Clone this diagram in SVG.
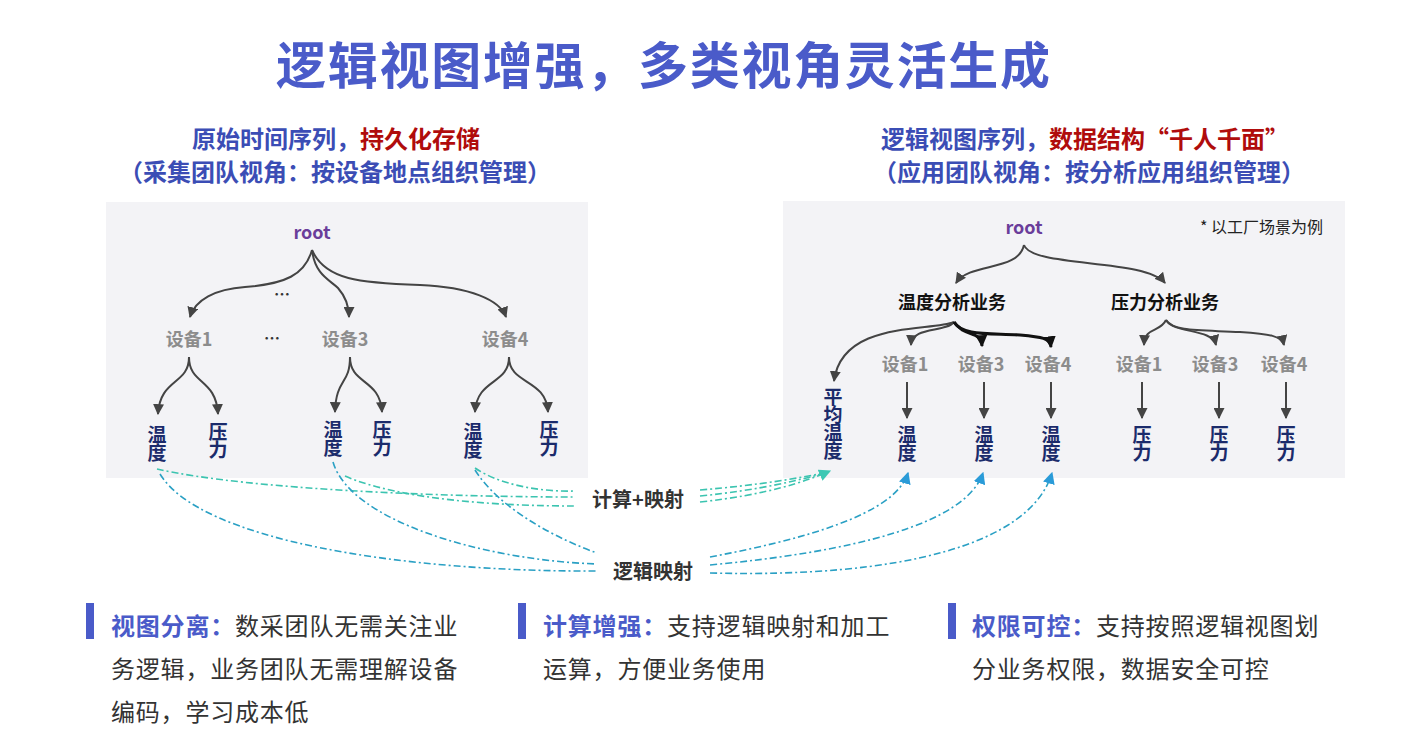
<svg xmlns="http://www.w3.org/2000/svg" width="1413" height="735" viewBox="0 0 1413 735">
<style>
.cjk{font-family:"Noto Sans CJK SC","Liberation Sans",sans-serif}
.title{font-size:50px;font-weight:bold;fill:#4a5bc9}
.sub{font-size:24px;font-weight:bold;fill:#3b4db5}
.red{fill:#b00c0c}
.root{font-size:18px;font-weight:bold;fill:#6a3d9a}
.dev{font-size:18px;font-weight:bold;fill:#8c8c8c}
.leaf{font-size:19px;font-weight:bold;fill:#1b2b6b;writing-mode:vertical-rl;letter-spacing:-1px}
.biz{font-size:18px;font-weight:bold;fill:#111}
.note{font-size:16px;fill:#222}
.lbl{font-size:20px;font-weight:bold;fill:#333}
.body{font-size:24px;fill:#333;letter-spacing:0.8px}
.hl{font-weight:bold;fill:#4a5bc9}
.tree{fill:none;stroke:#444;stroke-width:2}
.thick{fill:none;stroke:#111;stroke-width:3}
.calc{fill:none;stroke:#3cc4b0;stroke-width:1.6;stroke-dasharray:7 3 2 3}
.map{fill:none;stroke:#2aa0c4;stroke-width:1.6;stroke-dasharray:7 3 2 3}
.bar{fill:#4a5bc9}
</style>
<defs>
<marker id="ah" viewBox="0 0 10 10" refX="9" refY="5" markerWidth="11" markerHeight="11" markerUnits="userSpaceOnUse" orient="auto"><path d="M0,0 L10,5 L0,10 z" fill="#444"/></marker>
<marker id="ahk" viewBox="0 0 10 10" refX="9" refY="5" markerWidth="12" markerHeight="12" markerUnits="userSpaceOnUse" orient="auto"><path d="M0,0 L10,5 L0,10 z" fill="#111"/></marker>
<marker id="aht" viewBox="0 0 10 10" refX="9" refY="5" markerWidth="12" markerHeight="12" markerUnits="userSpaceOnUse" orient="auto"><path d="M0,0 L10,5 L0,10 z" fill="#3cc8b4"/></marker>
<marker id="ahb" viewBox="0 0 10 10" refX="9" refY="5" markerWidth="12" markerHeight="12" markerUnits="userSpaceOnUse" orient="auto"><path d="M0,0 L10,5 L0,10 z" fill="#2a9bd8"/></marker>
</defs>
<rect width="1413" height="735" fill="#ffffff"/>

<g id="title" class="cjk">
<text class="title" x="276" y="84" textLength="774" lengthAdjust="spacing">逻辑视图增强，多类视角灵活生成</text>
</g>

<g id="left-heading" class="cjk">
<text class="sub" x="336" y="148" text-anchor="middle">原始时间序列，<tspan class="red">持久化存储</tspan></text>
<text class="sub" x="335" y="181" text-anchor="middle">（采集团队视角：按设备地点组织管理）</text>
</g>
<g id="right-heading" class="cjk">
<text class="sub" x="1085" y="148" text-anchor="middle">逻辑视图序列，<tspan class="red">数据结构“千人千面”</tspan></text>
<text class="sub" x="1089" y="181" text-anchor="middle">（应用团队视角：按分析应用组织管理）</text>
</g>

<rect id="left-panel" x="106" y="202" width="482" height="276" fill="#f3f3f6"/>
<rect id="right-panel" x="783" y="201" width="562" height="277" fill="#f3f3f6"/>

<g id="connectors">
<!-- left tree -->
<path class="tree" marker-end="url(#ah)" d="M312,250 C305,275 285,284 245,287 C215,289 195,300 190,317"/>
<path class="tree" marker-end="url(#ah)" d="M312,250 C315,275 330,280 338,288 C345,296 349,305 349,317"/>
<path class="tree" marker-end="url(#ah)" d="M312,250 C325,280 360,283 420,285 C470,287 500,300 506,317"/>
<path class="tree" marker-end="url(#ah)" d="M189,357 C189,385 160,378 158,414"/>
<path class="tree" marker-end="url(#ah)" d="M189,357 C189,385 216,378 218,414"/>
<path class="tree" marker-end="url(#ah)" d="M350,357 C350,385 336,378 335,412"/>
<path class="tree" marker-end="url(#ah)" d="M350,357 C350,385 380,378 382,412"/>
<path class="tree" marker-end="url(#ah)" d="M509,357 C509,385 477,378 475,412"/>
<path class="tree" marker-end="url(#ah)" d="M509,357 C509,385 546,378 548,412"/>
<!-- right tree -->
<path class="tree" marker-end="url(#ah)" d="M1024,245 C1018,272 970,262 956,283"/>
<path class="tree" marker-end="url(#ah)" d="M1024,245 C1032,268 1145,258 1165,283"/>
<path class="tree" marker-end="url(#ah)" d="M954,322 C930,332 842,320 834,381"/>
<path class="tree" marker-end="url(#ah)" d="M954,322 C945,333 912,326 911,345"/>
<path class="thick" marker-end="url(#ahk)" d="M954,322 C965,338 981,330 982,346"/>
<path class="thick" marker-end="url(#ahk)" d="M954,322 C962,336 990,333 1020,335 C1042,337 1050,338 1051,347"/>
<path class="tree" marker-end="url(#ah)" d="M1166,320 C1160,333 1145,326 1144,345"/>
<path class="tree" marker-end="url(#ah)" d="M1166,320 C1174,334 1212,328 1216,345"/>
<path class="tree" marker-end="url(#ah)" d="M1166,320 C1174,332 1200,330 1240,332 C1270,334 1282,336 1284,345"/>
<path class="tree" marker-end="url(#ah)" d="M907,382 L907,418"/>
<path class="tree" marker-end="url(#ah)" d="M984,382 L984,418"/>
<path class="tree" marker-end="url(#ah)" d="M1051,382 L1051,418"/>
<path class="tree" marker-end="url(#ah)" d="M1142,382 L1142,418"/>
<path class="tree" marker-end="url(#ah)" d="M1219,382 L1219,418"/>
<path class="tree" marker-end="url(#ah)" d="M1286,382 L1286,418"/>
<!-- compute + mapping -->
<path class="calc" d="M157,469 C250,490 450,497 575,497"/>
<path class="calc" d="M345,476 C400,500 500,506 575,506"/>
<path class="calc" d="M475,468 C500,485 540,492 575,491"/>
<path class="calc" d="M700,490 C760,485 800,478 829,472"/>
<path class="calc" d="M700,496 C760,490 800,480 829,472"/>
<path class="calc" marker-end="url(#aht)" d="M700,502 C765,495 805,482 830,471"/>
<!-- logical mapping -->
<path class="map" d="M160,474 C200,540 400,572 597,571"/>
<path class="map" d="M333,462 C350,520 480,560 597,564"/>
<path class="map" d="M475,470 C500,510 560,540 597,553"/>
<path class="map" marker-end="url(#ahb)" d="M710,557 C800,540 895,515 908,473"/>
<path class="map" marker-end="url(#ahb)" d="M710,565 C850,552 965,525 983,473"/>
<path class="map" marker-end="url(#ahb)" d="M710,573 C900,578 1030,545 1052,473"/>
</g>

<g id="left-root" class="cjk"><text class="root" x="312" y="239" text-anchor="middle">root</text></g>
<g id="left-dots" class="cjk"><text x="282" y="300" font-size="16" font-weight="bold" fill="#333" text-anchor="middle">…</text><text x="272" y="344" font-size="16" font-weight="bold" fill="#333" text-anchor="middle">…</text></g>
<g id="l-dev1" class="cjk"><text class="dev" x="189" y="346" text-anchor="middle">设备1</text></g>
<g id="l-dev3" class="cjk"><text class="dev" x="345" y="346" text-anchor="middle">设备3</text></g>
<g id="l-dev4" class="cjk"><text class="dev" x="505" y="346" text-anchor="middle">设备4</text></g>
<g id="l-t1" class="cjk"><text class="leaf" x="157" y="425">温度</text></g>
<g id="l-p1" class="cjk"><text class="leaf" x="218" y="422">压力</text></g>
<g id="l-t3" class="cjk"><text class="leaf" x="333" y="420">温度</text></g>
<g id="l-p3" class="cjk"><text class="leaf" x="382" y="420">压力</text></g>
<g id="l-t4" class="cjk"><text class="leaf" x="473" y="422">温度</text></g>
<g id="l-p4" class="cjk"><text class="leaf" x="549" y="420">压力</text></g>

<g id="right-root" class="cjk"><text class="root" x="1024" y="234" text-anchor="middle">root</text></g>
<g id="note" class="cjk"><text class="note" x="1200" y="233">* 以工厂场景为例</text></g>
<g id="temp-biz" class="cjk"><text class="biz" x="952" y="309" text-anchor="middle">温度分析业务</text></g>
<g id="press-biz" class="cjk"><text class="biz" x="1165" y="309" text-anchor="middle">压力分析业务</text></g>
<g id="r-avg" class="cjk"><text class="leaf" x="833" y="387">平均温度</text></g>
<g id="r-tdev1" class="cjk"><text class="dev" x="905" y="371" text-anchor="middle">设备1</text></g>
<g id="r-tdev3" class="cjk"><text class="dev" x="981" y="371" text-anchor="middle">设备3</text></g>
<g id="r-tdev4" class="cjk"><text class="dev" x="1048" y="371" text-anchor="middle">设备4</text></g>
<g id="r-pdev1" class="cjk"><text class="dev" x="1139" y="371" text-anchor="middle">设备1</text></g>
<g id="r-pdev3" class="cjk"><text class="dev" x="1215" y="371" text-anchor="middle">设备3</text></g>
<g id="r-pdev4" class="cjk"><text class="dev" x="1284" y="371" text-anchor="middle">设备4</text></g>
<g id="r-t1" class="cjk"><text class="leaf" x="907" y="425">温度</text></g>
<g id="r-t3" class="cjk"><text class="leaf" x="984" y="425">温度</text></g>
<g id="r-t4" class="cjk"><text class="leaf" x="1051" y="425">温度</text></g>
<g id="r-p1" class="cjk"><text class="leaf" x="1142" y="425">压力</text></g>
<g id="r-p3" class="cjk"><text class="leaf" x="1219" y="425">压力</text></g>
<g id="r-p4" class="cjk"><text class="leaf" x="1286" y="425">压力</text></g>

<g id="calc-label" class="cjk"><text class="lbl" x="638" y="507" text-anchor="middle">计算+映射</text></g>
<g id="map-label" class="cjk"><text class="lbl" x="653" y="579" text-anchor="middle">逻辑映射</text></g>

<g id="point1" class="cjk">
<rect class="bar" x="86" y="603" width="8" height="36"/>
<text class="body" x="111" y="635"><tspan class="hl">视图分离：</tspan>数采团队无需关注业</text>
<text class="body" x="111" y="678">务逻辑，业务团队无需理解设备</text>
<text class="body" x="111" y="721">编码，学习成本低</text>
</g>
<g id="point2" class="cjk">
<rect class="bar" x="518" y="603" width="8" height="36"/>
<text class="body" x="543" y="635"><tspan class="hl">计算增强：</tspan>支持逻辑映射和加工</text>
<text class="body" x="543" y="678">运算，方便业务使用</text>
</g>
<g id="point3" class="cjk">
<rect class="bar" x="948" y="603" width="8" height="36"/>
<text class="body" x="972" y="635"><tspan class="hl">权限可控：</tspan>支持按照逻辑视图划</text>
<text class="body" x="972" y="678">分业务权限，数据安全可控</text>
</g>
</svg>
